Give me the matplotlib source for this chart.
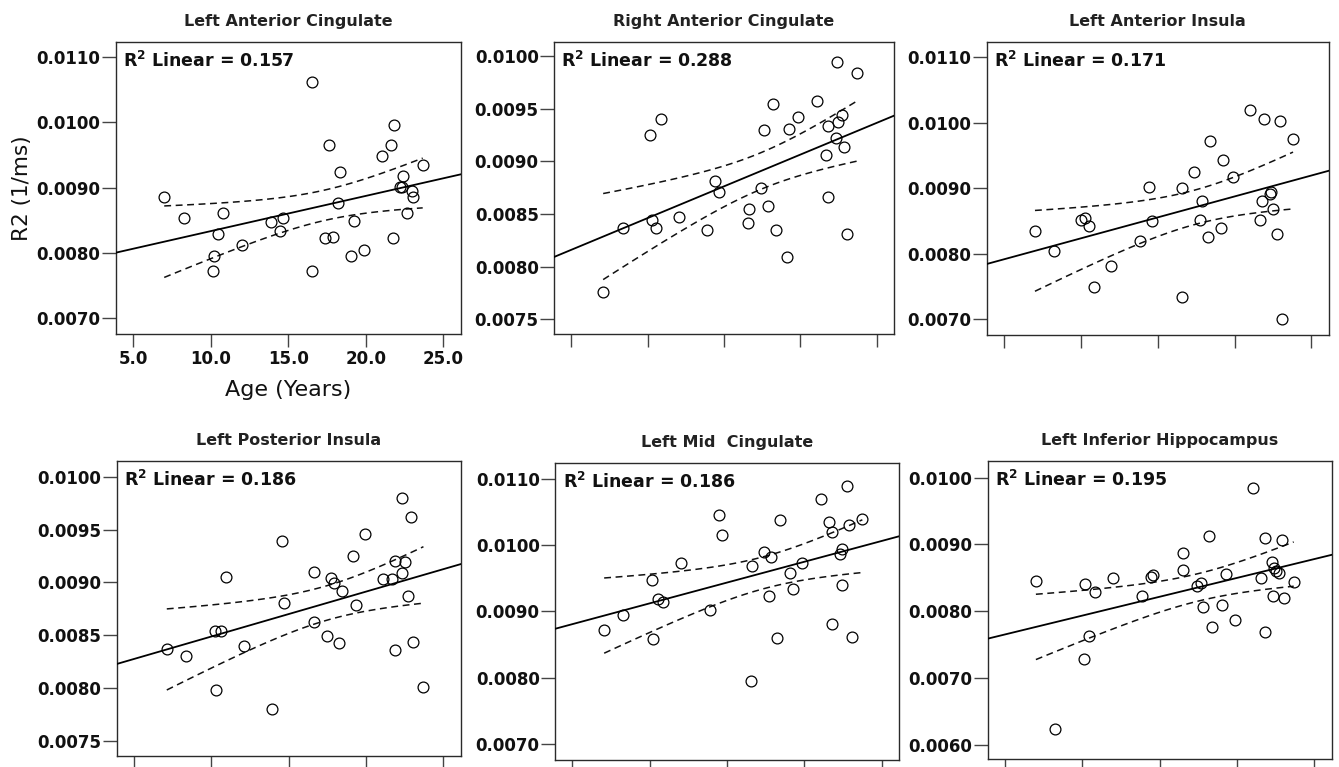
import numpy as np
import matplotlib
matplotlib.use("Agg")
import matplotlib.pyplot as plt

# ---------------- data ----------------
titles = ["Left Anterior Cingulate", "Right Anterior Cingulate", "Left Anterior Insula",
          "Left Posterior Insula", "Left Mid  Cingulate", "Left Inferior Hippocampus"]
r2_labels = ["0.157", "0.288", "0.171", "0.186", "0.186", "0.195"]

age_lac = [7.0, 8.25, 10.8, 10.48, 10.2, 10.16, 12.03, 13.88, 14.63, 14.46, 16.53, 16.53, 17.62,
           18.2, 18.33, 17.4, 17.9, 19.26, 19.06, 19.86, 21.06, 21.62, 21.84, 21.77, 22.42, 22.31,
           22.96, 23.06, 22.68, 23.67, 22.2]
r2_lac = [0.00885, 0.00853, 0.00861, 0.00829, 0.00795, 0.00772, 0.00812, 0.00847, 0.00853, 0.00833,
          0.01061, 0.00773, 0.00965, 0.00876, 0.00923, 0.00823, 0.00825, 0.00849, 0.00796, 0.00805,
          0.00948, 0.00965, 0.00996, 0.00823, 0.00917, 0.00901, 0.00894, 0.00886, 0.00861, 0.00934,
          0.00901]

age_rac = [7.09, 8.36, 10.19, 10.88, 10.29, 10.58, 12.04, 13.89, 14.43, 14.65, 16.61, 16.55, 17.42,
           17.64, 18.2, 17.88, 18.42, 19.12, 19.29, 19.88, 21.08, 21.84, 21.67, 21.84, 22.39, 22.49,
           22.76, 22.32, 22.89, 23.08, 23.69]
r2_rac = [0.007756, 0.008364, 0.00925, 0.0094, 0.00844, 0.00837, 0.00847, 0.00835, 0.00881, 0.00871,
          0.00855, 0.00841, 0.00875, 0.0093, 0.00954, 0.00858, 0.00835, 0.00809, 0.00931, 0.00942,
          0.00957, 0.00934, 0.00906, 0.00866, 0.00994, 0.00937, 0.00944, 0.00922, 0.00914, 0.00831,
          0.00984]

age_lai = [7.01, 8.25, 10.02, 10.28, 10.54, 10.82, 11.96, 13.83, 14.44, 14.64, 16.6, 16.6, 17.37,
           17.85, 17.74, 18.39, 18.24, 19.11, 19.26, 19.87, 21.03, 21.88, 21.62, 21.79, 22.38, 22.27,
           22.49, 22.78, 22.93, 23.1, 23.8]
r2_lai = [0.008346, 0.008046, 0.008514, 0.00854, 0.00843, 0.007486, 0.00782, 0.0082, 0.00902, 0.0085,
          0.00901, 0.007333, 0.00925, 0.0088, 0.00851, 0.00972, 0.00825, 0.0084, 0.00943, 0.00918,
          0.01019, 0.01006, 0.00851, 0.00881, 0.00894, 0.00891, 0.00868, 0.00831, 0.01003, 0.0070,
          0.00976]

age_lpi = [7.11, 8.33, 10.27, 10.2, 10.59, 10.91, 12.1, 13.92, 14.53, 14.68, 16.61, 16.61, 17.47,
           17.73, 17.9, 18.27, 18.44, 19.13, 19.34, 19.95, 21.09, 21.67, 21.84, 21.84, 22.35, 22.53,
           22.35, 22.74, 22.91, 23.06, 23.71]
r2_lpi = [0.00837, 0.0083, 0.00798, 0.008538, 0.008538, 0.00905, 0.0084, 0.0078, 0.00939, 0.0088,
          0.0091, 0.008626, 0.00849, 0.00904, 0.00899, 0.00843, 0.00892, 0.00925, 0.00879, 0.00946,
          0.00903, 0.00903, 0.0092, 0.00836, 0.0098, 0.00919, 0.00909, 0.00887, 0.00962, 0.00844,
          0.00801]

age_lmc = [7.05, 8.26, 10.14, 10.21, 10.53, 10.83, 12.02, 13.88, 14.46, 14.68, 16.58, 16.62, 17.42,
           17.74, 17.87, 18.24, 18.41, 19.1, 19.28, 19.86, 21.05, 21.59, 21.81, 21.76, 22.3, 22.45,
           22.45, 22.73, 22.88, 23.06, 23.75]
r2_lmc = [0.008717, 0.008943, 0.009482, 0.008586, 0.009195, 0.009145, 0.009733, 0.009029, 0.010463,
          0.010161, 0.007957, 0.009683, 0.009894, 0.00923, 0.009819, 0.008601, 0.010387, 0.009582,
          0.009346, 0.009733, 0.010704, 0.010347, 0.010201, 0.008818, 0.009874, 0.00995, 0.009406,
          0.010891, 0.010302, 0.008611, 0.010397]

age_lih = [6.99, 8.24, 10.19, 10.84, 10.45, 10.12, 11.96, 13.84, 14.45, 14.56, 16.5, 16.5, 17.43,
           17.65, 17.8, 18.19, 18.38, 19.05, 19.27, 19.85, 21.04, 21.58, 21.8, 21.8, 22.28, 22.38,
           22.56, 22.71, 22.34, 22.92, 23.03, 23.68]
r2_lih = [0.008454, 0.006234, 0.008409, 0.008294, 0.007631, 0.007282, 0.008504, 0.008234, 0.008519,
          0.008544, 0.008878, 0.008618, 0.008379, 0.008419, 0.00807, 0.009127, 0.007761, 0.008095,
          0.008554, 0.00787, 0.00984, 0.008494, 0.009092, 0.007686, 0.008743, 0.008643, 0.008603,
          0.008579, 0.008229, 0.009067, 0.008204, 0.008444]

ages = [age_lac, age_rac, age_lai, age_lpi, age_lmc, age_lih]
r2s = [r2_lac, r2_rac, r2_lai, r2_lpi, r2_lmc, r2_lih]

yticks_list = [
    [0.0070, 0.0080, 0.0090, 0.0100, 0.0110],
    [0.0075, 0.0080, 0.0085, 0.0090, 0.0095, 0.0100],
    [0.0070, 0.0080, 0.0090, 0.0100, 0.0110],
    [0.0075, 0.0080, 0.0085, 0.0090, 0.0095, 0.0100],
    [0.0070, 0.0080, 0.0090, 0.0100, 0.0110],
    [0.0060, 0.0070, 0.0080, 0.0090, 0.0100],
]
ylims = [(0.00676, 0.01123), (0.00736, 0.010136), (0.00676, 0.01124),
         (0.00736, 0.010151), (0.006758, 0.011246), (0.00579, 0.010254)]
xticks = [5.0, 10.0, 15.0, 20.0, 25.0]
xtick_labels = ["5.0", "10.0", "15.0", "20.0", "25.0"]
xlim = (3.87, 26.14)

# axes boxes in pixels: left, right, top, bottom
boxes_px = [(115.7, 461, 41.7, 334), (554, 894, 41.7, 334), (986.7, 1329, 41.7, 335),
            (116.7, 461, 460.7, 755.7), (555, 899.3, 462.7, 760), (987.7, 1331.7, 460.7, 759)]

W, H = 1339, 767
fig = plt.figure(figsize=(W / 100, H / 100), dpi=100)
fig.patch.set_facecolor("white")

FONT = "DejaVu Sans"
T_CRIT = 2.045  # t(0.975, df=29)

for i in range(6):
    l, r, t, b = boxes_px[i]
    ax = fig.add_axes([l / W, (H - b) / H, (r - l) / W, (b - t) / H])
    x = np.array(ages[i])
    y = np.array(r2s[i])
    n = len(x)
    slope, intercept = np.polyfit(x, y, 1)
    resid = y - (slope * x + intercept)
    s = np.sqrt(np.sum(resid ** 2) / (n - 2))
    xm = x.mean()
    sxx = np.sum((x - xm) ** 2)

    xl = np.array(xlim)
    ax.plot(xl, slope * xl + intercept, color="black", lw=1.3, zorder=3)
    xc = np.linspace(x.min(), x.max(), 100)
    yc = slope * xc + intercept
    se = s * np.sqrt(1.0 / n + (xc - xm) ** 2 / sxx)
    ax.plot(xc, yc + T_CRIT * se, color="#111111", lw=1.1, ls=(0, (4.5, 3)), zorder=3)
    ax.plot(xc, yc - T_CRIT * se, color="#111111", lw=1.1, ls=(0, (4.5, 3)), zorder=3)

    ax.plot(x, y, ls="none", marker="o", ms=7.8, mfc="none", mec="black", mew=0.9, zorder=4)

    ax.set_xlim(*xlim)
    ax.set_ylim(*ylims[i])
    ax.set_xticks(xticks)
    ax.set_yticks(yticks_list[i])
    ax.set_yticklabels([f"{v:.4f}" for v in yticks_list[i]], fontsize=12, fontweight="bold",
                       family=FONT, color="#111111")
    if i == 0:
        ax.set_xticklabels(xtick_labels, fontsize=12, fontweight="bold", family=FONT, color="#111111")
    else:
        ax.set_xticklabels([])
        ax.xaxis.get_major_ticks()[0].tick1line.set_color("#c8c8c8")
    ax.tick_params(axis="y", direction="out", length=10, width=1.0, pad=1, color="#444444")
    ax.tick_params(axis="x", direction="out", length=9.5, width=1.0, pad=2, color="#444444")
    for sp in ax.spines.values():
        sp.set_color("#2a2a2a")
        sp.set_linewidth(1.0)

    ax.set_title(titles[i], fontsize=11.5, fontweight="bold", family=FONT, color="#222222", pad=11)
    ax.text(0.022, 0.935, r"R$^{\mathbf{2}}$ Linear = " + r2_labels[i], transform=ax.transAxes,
            fontsize=12.5, fontweight="bold", family=FONT, color="#111111", va="center", ha="left")

    if i == 0:
        ax.set_xlabel("Age (Years)", fontsize=16, family=FONT, color="#111111", labelpad=9)
        ax.set_ylabel("R2 (1/ms)", fontsize=15.5, family=FONT, color="#111111", labelpad=3)

fig.savefig("out.png", dpi=100, facecolor="white")
